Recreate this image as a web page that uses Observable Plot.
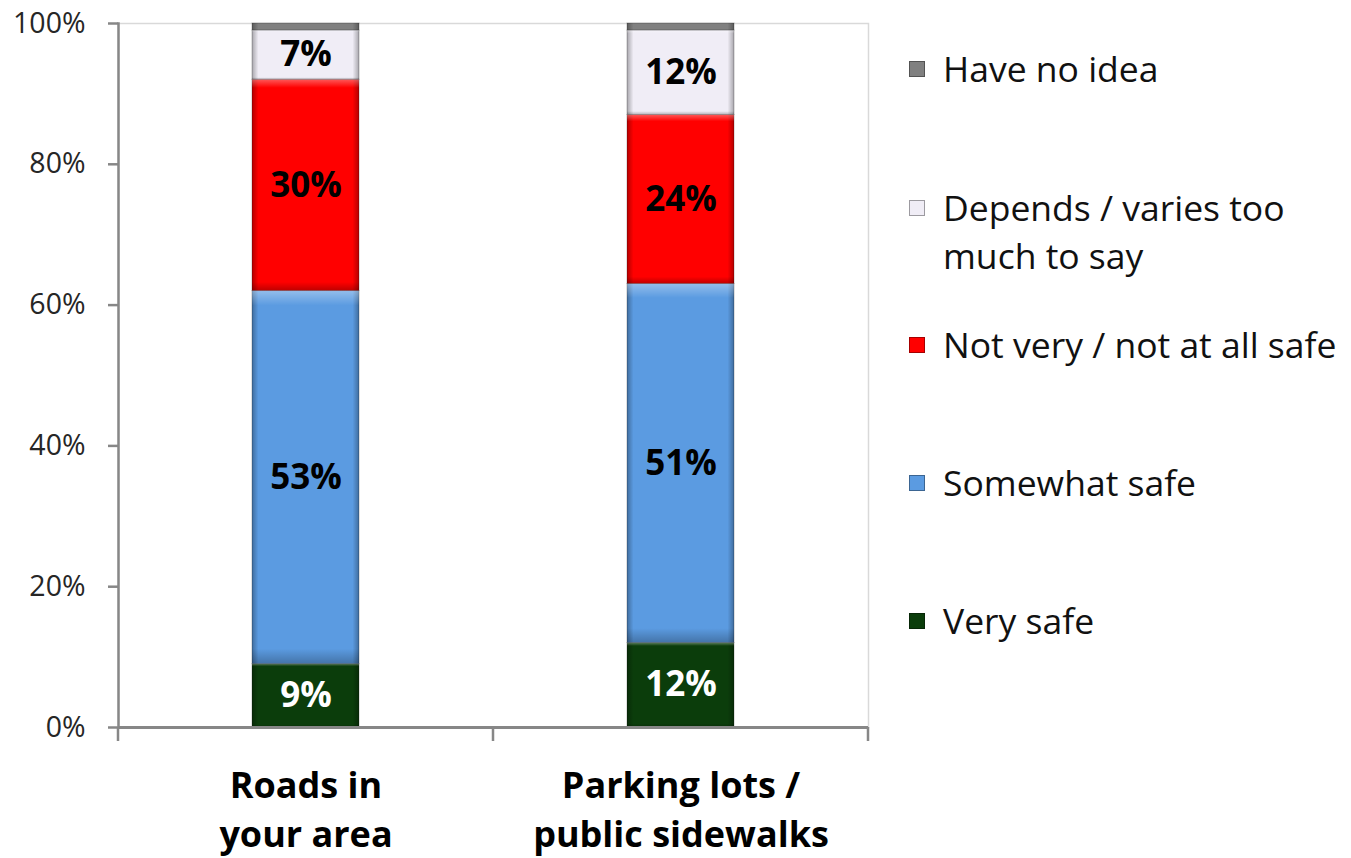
<!DOCTYPE html>
<html><head><meta charset="utf-8">
<script src="https://cdn.jsdelivr.net/npm/d3@7"></script>
<script src="https://cdn.jsdelivr.net/npm/@observablehq/plot@0.6"></script>
<style>
body{margin:0;background:#fff;}
#wrap{position:relative;width:1351px;height:858px;font-family:"Open Sans",sans-serif;}
.leg{position:absolute;left:909px;font-size:35.5px;color:#111;line-height:48px;white-space:nowrap;}
.sw{position:absolute;left:0;width:16px;height:16px;box-sizing:border-box;border:1px solid rgba(0,0,0,0.35);}
.lt{position:absolute;left:34px;top:-1px;}
</style></head><body><div id="wrap"></div>
<script>
const categories = ["Roads in\nyour area", "Parking lots /\npublic sidewalks"];
const series = ["Very safe", "Somewhat safe", "Not very / not at all safe", "Depends / varies too much to say", "Have no idea"];
const legendLabels = ["Very safe", "Somewhat safe", "Not very / not at all safe", "Depends / varies too\nmuch to say", "Have no idea"];
const roadsValues = [9, 53, 30, 7, 1];
const parkingValues = [12, 51, 24, 12, 1];
const colors = ["#0b3d0b", "#5b9be1", "#ff0000", "#f0edf6", "#808080"];
const yTicks = [0, 20, 40, 60, 80, 100];

const valuesByCategory = [roadsValues, parkingValues];
const data = [];
categories.forEach((c, i) => series.forEach((s, j) => data.push({category: c, series: s, value: valuesByCategory[i][j]})));

const axisGray = "#878787";
const stackOpts = {x: "category", y: "value", z: "series", order: series};
const barInset = {insetLeft: 134, insetRight: 134};

const plot = Plot.plot({
  width: 1351, height: 858,
  marginLeft: 118, marginRight: 483, marginTop: 23, marginBottom: 131,
  style: {fontFamily: "'Open Sans', sans-serif", background: "#fff", overflow: "visible"},
  x: {domain: categories, padding: 0},
  y: {domain: [0, 100]},
  color: {domain: series, range: colors},
  marks: [
    Plot.frame({stroke: "#d9d9d9", strokeWidth: 1.5}),
    Plot.barY(data, {...stackOpts, fill: "series", ...barInset, stroke: "rgba(0,0,0,0.25)", strokeWidth: 1}),
    Plot.barY(data, {...stackOpts, fill: "url(#bevelH)", ...barInset}),
    Plot.barY(data, {...stackOpts, fill: "url(#bevelV)", ...barInset}),
    Plot.text(data, Plot.stackY({...stackOpts, text: d => d.series === "Very safe" ? d.value + "%" : "", fill: "white", fontWeight: "bold", fontSize: 35})),
    Plot.text(data, Plot.stackY({...stackOpts, text: d => d.series !== "Very safe" && d.value >= 5 ? d.value + "%" : "", fill: "black", fontWeight: "bold", fontSize: 35})),
    Plot.axisY({ticks: yTicks, tickSize: 10, tickPadding: 23, tickFormat: d => d + "%", fontSize: 28.5, stroke: axisGray, strokeWidth: 2.5, fill: "#262626", label: null}),
    Plot.frame({anchor: "left", stroke: axisGray, strokeWidth: 2.5}),
    Plot.ruleY([0], {stroke: axisGray, strokeWidth: 3}),
    Plot.axisX({tickSize: 0, tickPadding: 36, fontSize: 36, fontWeight: "bold", lineHeight: 1.36, fill: "#000", label: null})
  ]
});

// Gradient definitions for the bevelled look
const defs = d3.select(plot).insert("defs", ":first-child");
const gh = defs.append("linearGradient").attr("id", "bevelH").attr("x1", 0).attr("x2", 1).attr("y1", 0).attr("y2", 0);
[[0, "#000", 0.3], [0.06, "#000", 0], [0.94, "#000", 0], [1, "#000", 0.3]].forEach(([o, c, a]) =>
  gh.append("stop").attr("offset", o).attr("stop-color", c).attr("stop-opacity", a));
const gv = defs.append("linearGradient").attr("id", "bevelV").attr("x1", 0).attr("x2", 0).attr("y1", 0).attr("y2", 1);
[[0, "#fff", 0.35], [0.04, "#fff", 0], [0.96, "#000", 0], [1, "#000", 0.25]].forEach(([o, c, a]) =>
  gv.append("stop").attr("offset", o).attr("stop-color", c).attr("stop-opacity", a));

// Category boundary ticks on the x axis, from the plot's own x scale
const xs = plot.scale("x");
const ys = plot.scale("y");
const bounds = xs.domain.map(c => xs.apply(c)).concat([xs.apply(xs.domain[xs.domain.length - 1]) + xs.bandwidth]);
const y0 = ys.apply(0);
d3.select(plot).append("g").selectAll("line").data(bounds).join("line")
  .attr("x1", d => d).attr("x2", d => d)
  .attr("y1", y0).attr("y2", y0 + 14)
  .attr("stroke", axisGray).attr("stroke-width", 2.5);

const wrap = document.getElementById("wrap");
wrap.appendChild(plot);

// Legend (top-to-bottom reversed order)
const legendCenters = [621, 483, 345, 208, 69];
series.forEach((s, j) => {
  const item = document.createElement("div");
  item.className = "leg";
  item.style.top = (legendCenters[j] - 24) + "px";
  const sw = document.createElement("div");
  sw.className = "sw";
  sw.style.top = "16px";
  sw.style.background = colors[j];
  const t = document.createElement("div");
  t.className = "lt";
  t.innerHTML = legendLabels[j].replace("\n", "<br>");
  item.appendChild(sw); item.appendChild(t);
  wrap.appendChild(item);
});
</script>
</body></html>
